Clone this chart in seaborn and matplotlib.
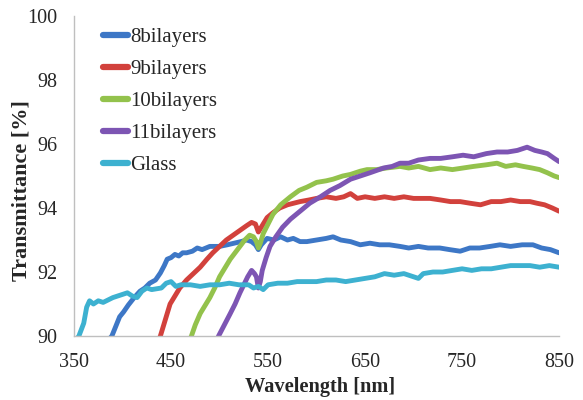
import numpy as np
import pandas as pd
import matplotlib
matplotlib.use("Agg")
import matplotlib.pyplot as plt
import seaborn as sns

series_names = ["8bilayers", "9bilayers", "10bilayers", "11bilayers", "Glass"]

wl_8 = [386, 389, 393, 397, 401, 406, 412, 418, 423, 428, 434, 439, 443, 446, 450, 454, 458, 462, 466, 472,
        477, 482, 490, 500, 508, 515, 522, 528, 533, 537, 540, 543, 549, 556, 563, 570, 576, 583, 590, 600,
        610, 617, 625, 635, 645, 655, 665, 675, 686, 695, 705, 715, 727, 737, 748, 758, 768, 779, 789, 800,
        812, 823, 832, 841, 850]
t_8 = [89.9, 90.0, 90.3, 90.6, 90.75, 90.97, 91.2, 91.4, 91.5, 91.65, 91.75, 91.97, 92.2, 92.4, 92.45, 92.55,
       92.5, 92.6, 92.6, 92.65, 92.75, 92.7, 92.8, 92.8, 92.85, 92.9, 92.95, 93.0, 92.95, 92.85, 92.7, 92.85,
       93.05, 93.0, 93.1, 93.0, 93.05, 92.95, 92.95, 93.0, 93.05, 93.1, 93.0, 92.95, 92.85, 92.9, 92.85, 92.85,
       92.8, 92.75, 92.8, 92.75, 92.75, 92.7, 92.65, 92.75, 92.75, 92.8, 92.85, 92.8, 92.85, 92.85, 92.75,
       92.7, 92.6]

wl_9 = [436, 439, 444, 449, 454, 459, 466, 473, 480, 487, 493, 500, 507, 514, 521, 528, 533, 537, 540, 543,
        549, 555, 562, 570, 583, 592, 600, 610, 620, 628, 635, 642, 650, 660, 670, 680, 690, 700, 710, 717,
        728, 738, 748, 758, 769, 780, 790, 800, 810, 820, 827, 835, 843, 850]
t_9 = [89.8, 90.0, 90.5, 91.0, 91.25, 91.5, 91.75, 91.95, 92.15, 92.4, 92.6, 92.8, 93.0, 93.15, 93.3, 93.45,
       93.55, 93.5, 93.25, 93.4, 93.7, 93.85, 94.0, 94.1, 94.2, 94.25, 94.3, 94.35, 94.3, 94.35, 94.45, 94.3,
       94.35, 94.3, 94.35, 94.3, 94.35, 94.3, 94.3, 94.3, 94.25, 94.2, 94.2, 94.15, 94.1, 94.2, 94.2, 94.25,
       94.2, 94.2, 94.15, 94.1, 94.0, 93.9]

wl_10 = [468, 471, 475, 480, 485, 490, 495, 500, 506, 511, 516, 521, 526, 531, 535, 538, 540, 542, 545, 550,
         555, 563, 573, 582, 590, 600, 610, 617, 627, 635, 645, 652, 662, 672, 686, 695, 705, 717, 728, 740,
         751, 762, 775, 786, 795, 805, 813, 822, 830, 838, 845, 850]
t_10 = [89.8, 90.0, 90.35, 90.7, 90.95, 91.2, 91.5, 91.85, 92.15, 92.4, 92.6, 92.8, 93.0, 93.15, 93.1, 92.95,
        92.75, 92.9, 93.2, 93.5, 93.8, 94.1, 94.35, 94.55, 94.65, 94.8, 94.85, 94.9, 95.0, 95.05, 95.15, 95.2,
        95.2, 95.25, 95.3, 95.25, 95.3, 95.2, 95.25, 95.2, 95.25, 95.3, 95.35, 95.4, 95.3, 95.35, 95.3, 95.25,
        95.2, 95.1, 95.0, 94.95]

wl_11 = [496, 499, 505, 511, 516, 521, 525, 529, 533, 536, 538, 540, 542, 544, 548, 552, 558, 565, 573, 583,
         593, 604, 614, 624, 635, 645, 655, 669, 678, 686, 695, 705, 717, 728, 740, 751, 762, 775, 786, 797,
         807, 817, 825, 832, 838, 845, 850]
t_11 = [89.8, 90.0, 90.35, 90.7, 91.0, 91.35, 91.6, 91.85, 92.05, 91.95, 91.85, 91.5, 91.7, 92.05, 92.45, 92.8,
        93.1, 93.4, 93.65, 93.9, 94.15, 94.35, 94.55, 94.7, 94.9, 95.0, 95.1, 95.25, 95.3, 95.4, 95.4, 95.5,
        95.55, 95.55, 95.6, 95.65, 95.6, 95.7, 95.75, 95.75, 95.8, 95.9, 95.8, 95.75, 95.7, 95.55, 95.45]

wl_glass = [350, 355, 360, 363, 366, 370, 375, 380, 390, 400, 405, 410, 415, 420, 425, 430, 440, 445, 450, 455,
            460, 470, 480, 490, 500, 510, 520, 530, 535, 540, 545, 550, 560, 570, 580, 590, 600, 610, 620, 630,
            640, 650, 660, 665, 670, 680, 690, 700, 705, 710, 720, 730, 740, 750, 760, 770, 780, 790, 800, 810,
            820, 830, 840, 850]
t_glass = [89.8, 90.0, 90.4, 90.9, 91.1, 91.0, 91.1, 91.05, 91.2, 91.3, 91.35, 91.25, 91.2, 91.4, 91.5, 91.45,
           91.5, 91.65, 91.7, 91.55, 91.6, 91.6, 91.55, 91.6, 91.6, 91.65, 91.6, 91.6, 91.5, 91.55, 91.45, 91.6,
           91.65, 91.65, 91.7, 91.7, 91.7, 91.75, 91.75, 91.7, 91.75, 91.8, 91.85, 91.9, 91.95, 91.9, 91.95,
           91.85, 91.8, 91.95, 92.0, 92.0, 92.05, 92.1, 92.05, 92.1, 92.1, 92.15, 92.2, 92.2, 92.2, 92.15, 92.2,
           92.15]

x_ticks = [350, 450, 550, 650, 750, 850]
y_ticks = [90, 92, 94, 96, 98, 100]
colors = ["#3D77C6", "#D2413C", "#93C24C", "#7D55B3", "#3DB1D0"]

frames = []
for name, wl, t in zip(series_names,
                       [wl_8, wl_9, wl_10, wl_11, wl_glass],
                       [t_8, t_9, t_10, t_11, t_glass]):
    frames.append(pd.DataFrame({"Wavelength": wl, "T": t, "Sample": name}))
df = pd.concat(frames, ignore_index=True)

sns.set_style("white")
plt.rcParams["font.family"] = ["Liberation Serif", "DejaVu Serif"]

fig = plt.figure(figsize=(5.83, 4.0), dpi=100)
ax = fig.add_axes([0.127, 0.16, 0.832, 0.80])

sns.lineplot(data=df, x="Wavelength", y="T", hue="Sample", hue_order=series_names,
             palette=colors, linewidth=3.5, ax=ax, sort=False, estimator=None)

ax.set_xlim(350, 850)
ax.set_ylim(90, 100)
ax.set_xticks(x_ticks)
ax.set_yticks(y_ticks)
ax.tick_params(axis="both", labelsize=14.5, direction="out", length=5, width=1,
               color="#BFBFBF")
ax.tick_params(axis="y", pad=7)
ax.tick_params(axis="x", pad=7)
for s in ["top", "right"]:
    ax.spines[s].set_visible(False)
for s in ["left", "bottom"]:
    ax.spines[s].set_color("#BFBFBF")
    ax.spines[s].set_linewidth(1)

ax.set_xlabel("Wavelength [nm]", fontsize=14.7, fontweight="bold")
ax.set_ylabel("Transmittance [%]", fontsize=16, fontweight="bold")
ax.xaxis.set_label_coords(0.508, -0.128)
ax.yaxis.set_label_coords(-0.088, 0.456)

leg = ax.legend(loc="upper left", bbox_to_anchor=(0.043, 0.99), frameon=False, fontsize=15,
                handlelength=1.2, handletextpad=0.1, labelspacing=0.6, borderaxespad=0)
for line in leg.get_lines():
    line.set_linewidth(4.5)

fig.savefig("out.png", dpi=100)
